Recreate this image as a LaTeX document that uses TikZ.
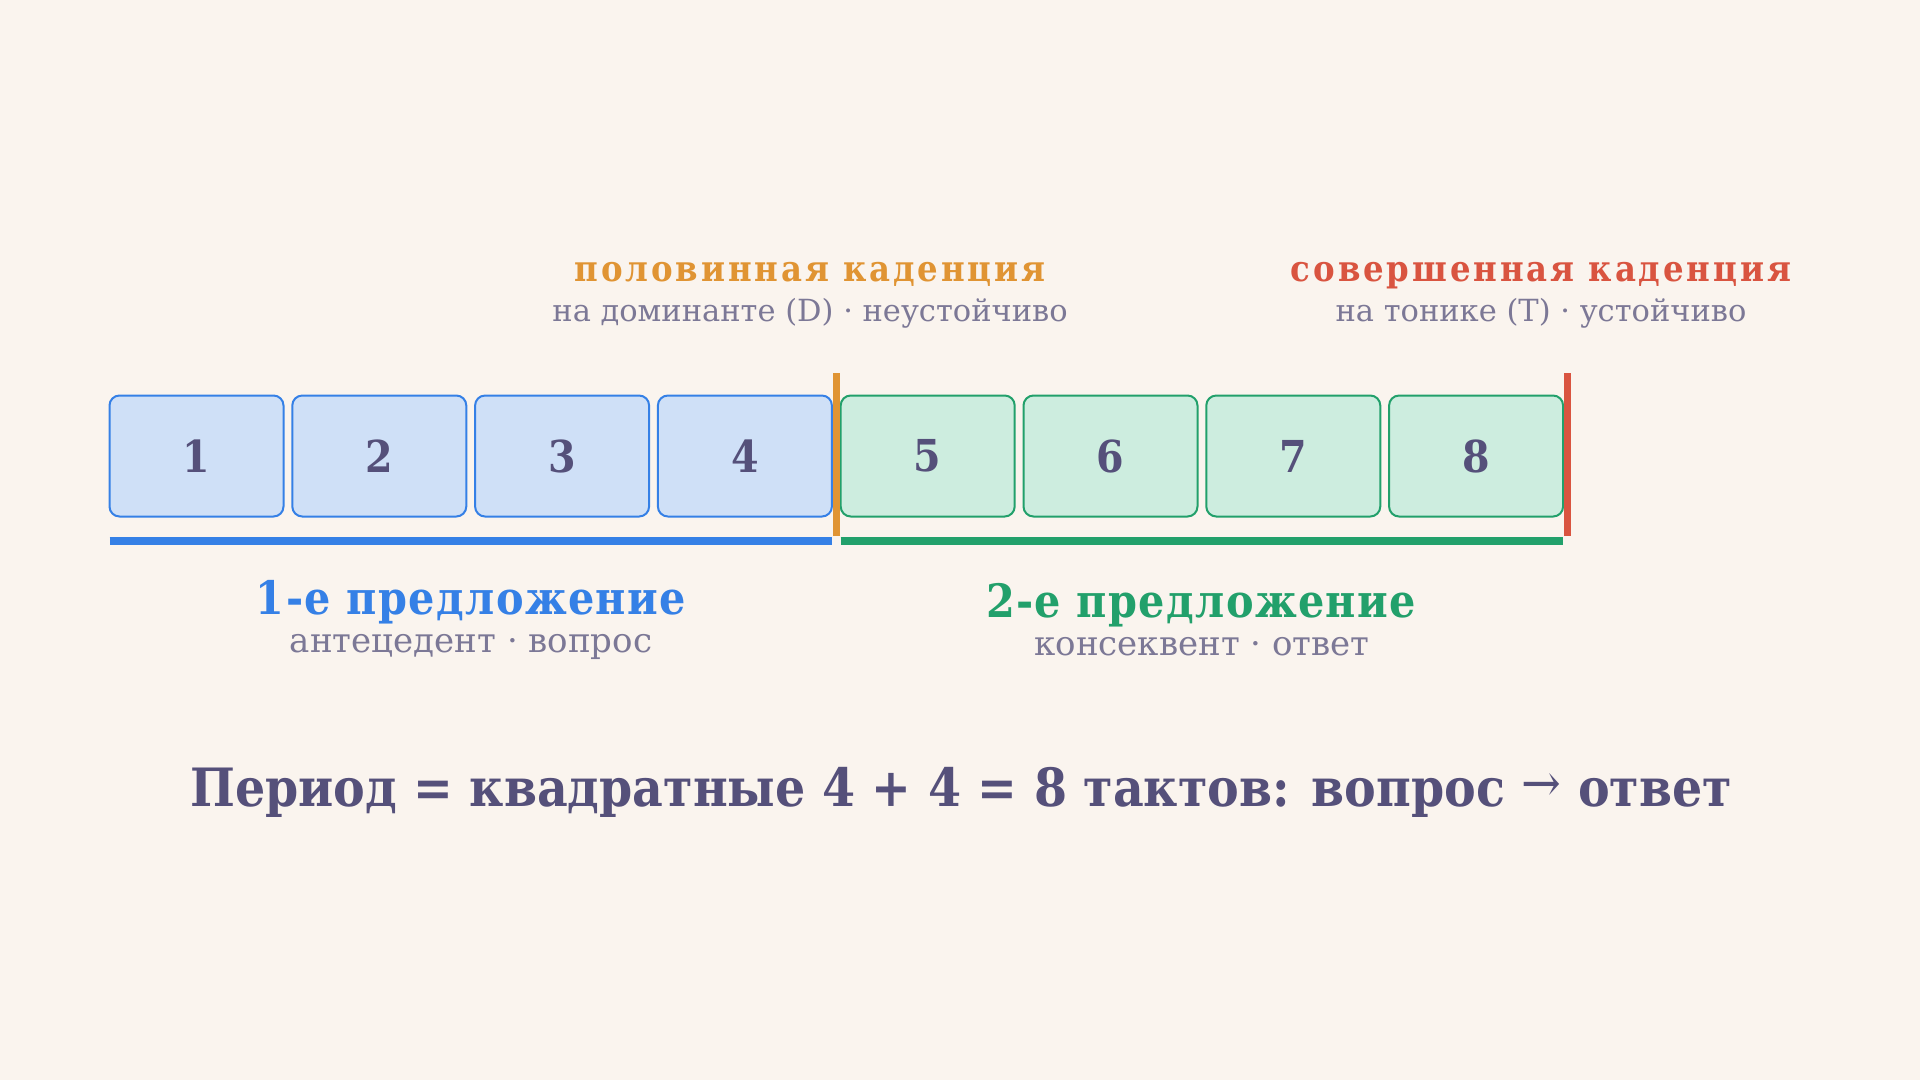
\documentclass[tikz,border=0pt]{standalone}
\usepackage{fontspec}
\setmainfont{DejaVu Serif Condensed}
\newfontfamily\notefont{DejaVu Serif}
\usepackage{tikz}
\usetikzlibrary{positioning}

\definecolor{bgcream}{HTML}{FAF4EE}
\definecolor{antblue}{HTML}{3580E6}
\definecolor{antfill}{HTML}{CFE0F7}
\definecolor{consgreen}{HTML}{22A06B}
\definecolor{consfill}{HTML}{CDEDDF}
\definecolor{halforange}{HTML}{E09433}
\definecolor{fullred}{HTML}{D95440}
\definecolor{inkdark}{HTML}{55507A}
\definecolor{inkgray}{HTML}{7C7896}

\tikzset{
  bar/.style={draw, line width=2pt, rounded corners=10pt, minimum width=174pt,
    minimum height=121pt, inner sep=0pt, outer sep=0pt, text=inkdark,
    font=\fontsize{44}{44}\selectfont\bfseries},
  antbar/.style={bar, draw=antblue, fill=antfill},
  consbar/.style={bar, draw=consgreen, fill=consfill},
  cadtitle/.style={anchor=base, font=\fontsize{36}{36}\selectfont\bfseries\addfontfeature{LetterSpace=8}},
  phrtitle/.style={anchor=base, font=\fontsize{46}{46}\selectfont\bfseries\addfontfeature{LetterSpace=3}},
  subtext/.style={anchor=base, text=inkgray, font=\notefont\fontsize{30.5}{30.5}\selectfont},
  phrnote/.style={subtext, font=\notefont\fontsize{34}{34}\selectfont},
}

\begin{document}
\begin{tikzpicture}[x=1pt, y=-1pt]
\useasboundingbox (0,0) rectangle (1920,1080);
\fill[bgcream] (0,0) rectangle (1920,1080);

% eight bars
\node[antbar] (b1) at (196.5,456) {1};
\foreach \i/\j in {2/1,3/2,4/3}
    \node[antbar, right=8.8pt of b\j] (b\i) {\i};
\foreach \i/\j in {5/4,6/5,7/6,8/7}
    \node[consbar, right=8.8pt of b\j] (b\i) {\i};

% phrase underlines
\draw[antblue, line width=8pt] ([yshift=-24.5pt]b1.south west) -- ([yshift=-24.5pt]b4.south east);
\draw[consgreen, line width=8pt] ([yshift=-24.5pt]b5.south west) -- ([yshift=-24.5pt]b8.south east);

% cadence marks
\coordinate (halftop) at ([xshift=4.5pt, yshift=22.5pt]b4.north east);
\coordinate (halfbot) at ([xshift=4.5pt, yshift=-19.5pt]b4.south east);
\coordinate (fulltop) at ([xshift=4pt, yshift=22.5pt]b8.north east);
\coordinate (fullbot) at ([xshift=4pt, yshift=-19.5pt]b8.south east);
\draw[halforange, line width=7pt] (halftop) -- (halfbot);
\draw[fullred, line width=7pt] (fulltop) -- (fullbot);

\node[cadtitle, text=halforange] (halfname) at (810,281) {половинная каденция};
\node[subtext] (halfnote) at (810,321) {на доминанте (D) · неустойчиво};
\node[cadtitle, text=fullred] (fullname) at (1541,281) {совершенная каденция};
\node[subtext] (fullnote) at (1541,321) {на тонике (T) · устойчиво};

\node[phrtitle, text=antblue] (antname) at (471,614) {1-е предложение};
\node[phrnote] (antnote) at (471,652) {антецедент · вопрос};
\node[phrtitle, text=consgreen] (consname) at (1201,617) {2-е предложение};
\node[phrnote] (consnote) at (1202,655) {консеквент · ответ};

\node[anchor=base, text=inkdark, font=\fontsize{52.8}{52.8}\selectfont\bfseries] (summary) at (961,806)
    {Период = квадратные 4 + 4 = 8 тактов: вопрос \raisebox{5pt}{\mdseries →} ответ};

\end{tikzpicture}
\end{document}
